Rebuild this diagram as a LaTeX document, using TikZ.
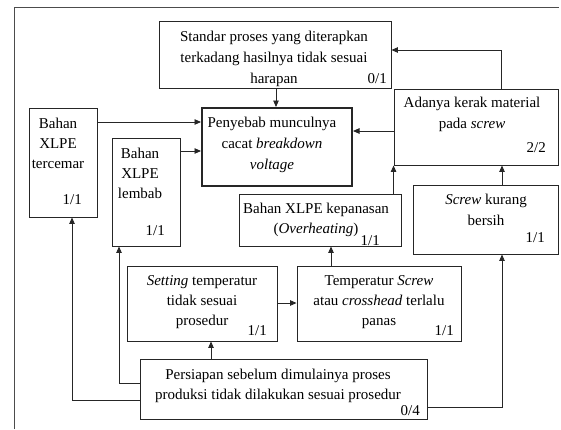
\documentclass[tikz,border=0pt]{standalone}
\usepackage{fontspec}
\setmainfont{Liberation Serif}
\usetikzlibrary{arrows.meta}
\begin{document}
\begin{tikzpicture}[x=1pt,y=-1pt,
  box/.style={draw=black!85,line width=0.9pt,inner sep=0pt,rectangle},
  mainbox/.style={box,line width=2pt},
  txt/.style={inner sep=0pt,align=center,anchor=base,font=\fontsize{15}{21}\selectfont},
  txtb/.style={txt,font=\fontsize{15}{20}\selectfont},
  frac/.style={inner sep=0pt,anchor=base east,font=\fontsize{15}{20}\selectfont},
  arr/.style={draw=black!85,line width=0.9pt,-{Triangle[length=6.5pt,width=5.5pt]}},
  frameline/.style={draw=black!70,line width=0.9pt}]
\useasboundingbox (0,0) rectangle (561,429);
\draw[frameline] (14,429) -- (14,7) -- (559,7);
% boxes
\node[box,minimum width=232pt,minimum height=67pt] (std) at (275,54.5) {};
\node[mainbox,minimum width=150pt,minimum height=78pt] (pen) at (277,147) {};
\node[box,minimum width=68pt,minimum height=109pt] (tc) at (63,162.5) {};
\node[box,minimum width=68pt,minimum height=108pt] (lb) at (146,192) {};
\node[box,minimum width=164pt,minimum height=76pt] (ad) at (476,127) {};
\node[box,minimum width=145pt,minimum height=69pt] (sk) at (485.5,219.5) {};
\node[box,minimum width=162pt,minimum height=52pt] (kp) at (320,220) {};
\node[box,minimum width=150pt,minimum height=75pt] (st) at (202,303.5) {};
\node[box,minimum width=164pt,minimum height=75pt] (tp) at (379,303.5) {};
\node[box,minimum width=287pt,minimum height=60pt] (ps) at (283.5,389) {};
% texts (anchor base = baseline of the last line)
\node[txt] (stdT) at (274,83) {Standar proses yang diterapkan\\terkadang hasilnya tidak sesuai\\harapan};
\node[frac] (stdF) at (387,83) {0/1};
\node[txt] (penT) at (272,169) {Penyebab munculnya\\cacat \textit{breakdown}\\\textit{voltage}};
\node[txtb] (tcT) at (58,168) {Bahan\\XLPE\\tercemar};
\node[frac] (tcF) at (82,204) {1/1};
\node[txtb] (lbT) at (140,198) {Bahan\\XLPE\\lembab};
\node[frac] (lbF) at (165,235) {1/1};
\node[txt] (adT) at (472,128) {Adanya kerak material\\pada \textit{screw}};
\node[frac] (adF) at (546,152) {2/2};
\node[txt] (skT) at (486,225) {\textit{Screw} kurang\\bersih};
\node[frac] (skF) at (545,242) {1/1};
\node[txtb] (kpT) at (316,233) {Bahan XLPE kepanasan\\(\textit{Overheating})};
\node[frac] (kpF) at (380,245) {1/1};
\node[txtb] (stT) at (202,325) {\textit{Setting} temperatur\\tidak sesuai\\prosedur};
\node[frac] (stF) at (267,335) {1/1};
\node[txtb] (tpT) at (379,325) {Temperatur \textit{Screw}\\atau \textit{crosshead} terlalu\\panas};
\node[frac] (tpF) at (454,335) {1/1};
\node[txtb] (psT) at (278,399) {Persiapan sebelum dimulainya proses\\produksi tidak dilakukan sesuai prosedur};
\node[frac] (psF) at (420,415) {0/4};
% connectors
\draw[arr] (276,0 |- std.south) -- (276,0 |- pen.north);
\draw[arr] (tc.east |- 0,122) -- (pen.west |- 0,122);
\draw[arr] (lb.east |- 0,151) -- (pen.west |- 0,151);
\draw[arr] (ad.west |- 0,131) -- (pen.east |- 0,131);
\draw[arr] (ad.west |- kp.north) -- (ad.south west);
\draw[arr] (501,0 |- ad.north) |- (std.east |- 0,50);
\draw[arr] (502,0 |- sk.north) -- (502,0 |- ad.south);
\draw[arr] (ps.east |- 0,407) -| (502,0 |- sk.south);
\draw[arr] (211,0 |- ps.north) -- (211,0 |- st.south);
\draw[arr] (ps.west |- 0,383) -| (119,0 |- lb.south);
\draw[arr] (ps.west |- 0,400) -| (72,0 |- tc.south);
\draw[arr] (st.east |- 0,303) -- (tp.west |- 0,303);
\draw[arr] (331,0 |- tp.north) -- (331,0 |- kp.south);
\end{tikzpicture}
\end{document}
